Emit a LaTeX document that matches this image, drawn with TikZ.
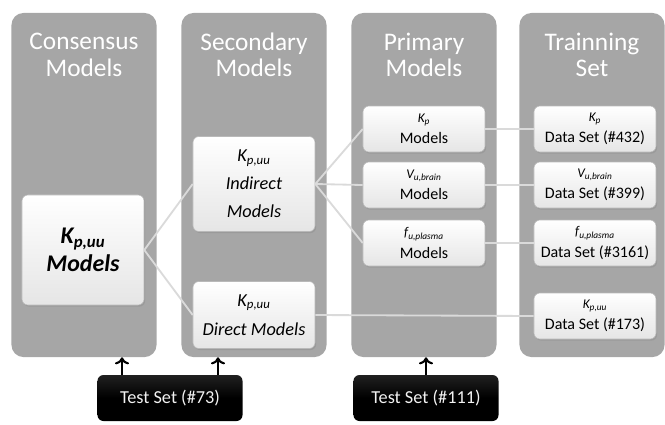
\documentclass[tikz,border=0pt]{standalone}
\usepackage{fontspec}
\setmainfont{Carlito}
\usetikzlibrary{arrows,arrows.meta,positioning,shadows}
\definecolor{colgray}{HTML}{A6A6A6}
\definecolor{linegray}{HTML}{DADADA}
\newcommand{\kpuu}{\textit{K}\textsubscript{\textit{p,uu}}}
\newcommand{\sublbl}[1]{{\fontsize{9.5}{11}\selectfont\itshape #1}}
\tikzstyle{column} = [rectangle, rounded corners=0.3cm, minimum width=3.625cm, minimum height=8.6cm, fill=colgray, draw=none]
\tikzstyle{title} = [text=white, align=center, font=\fontsize{18}{18.7}\selectfont]
\tikzstyle{model} = [rectangle, rounded corners=0.15cm, minimum width=3.05cm, top color=white, bottom color=gray!20, draw=gray!55, align=center, drop shadow={opacity=0.3, shadow xshift=0.03cm, shadow yshift=-0.04cm}]
\tikzstyle{small} = [model, minimum height=1.15cm, inner sep=1pt, font=\fontsize{11.4}{15}\selectfont]
\tikzstyle{testset} = [rectangle, rounded corners=0.15cm, minimum width=3.625cm, minimum height=1.15cm, top color=gray!25!black, bottom color=black, middle color=black, text=gray!10, font=\fontsize{13}{15}\selectfont]
\tikzstyle{link} = [draw=linegray, line width=1.3pt]
\tikzstyle{up} = [-{To[length=5pt,width=10pt]}, line width=1.5pt]

\begin{document}
\begin{tikzpicture}[x=0.025cm, y=-0.025cm]
\useasboundingbox (0,0) rectangle (665,424);

 % columns
 \node (col1) [column] at (84,185) {};
 \node (col2) [column] at (254,185) {};
 \node (col3) [column] at (424,185) {};
 \node (col4) [column] at (592,185) {};
 \node (t1) [title] at (84,55) {Consensus\\Models};
 \node (t2) [title] at (254,55) {Secondary\\Models};
 \node (t3) [title] at (424,55) {Primary\\Models};
 \node (t4) [title] at (592,55) {Trainning\\Set};

 % model boxes
 \node (cons) [model, minimum height=2.75cm, font=\fontsize{17}{20}\selectfont\bfseries\itshape] at (83,250) {\kpuu\\Models};
 \node (ind) [model, minimum height=2.375cm, font=\fontsize{13}{20}\selectfont\itshape] at (254,184) {\kpuu\\Indirect\\Models};
 \node (dir) [model, minimum height=1.675cm, font=\fontsize{13}{21}\selectfont\itshape] at (254,315) {\kpuu\\Direct Models};
 \node (kp) [small] at (424,129) {\sublbl{K\textsubscript{p}}\\Models};
 \node (vu) [small] at (424,185) {\sublbl{V\textsubscript{u,brain}}\\Models};
 \node (fu) [small] at (424,243) {\sublbl{f\textsubscript{u,plasma}}\\Models};
 \node (dkp) [small] at (595,129) {\sublbl{K\textsubscript{p}}\\Data Set (\#432)};
 \node (dvu) [small] at (595,185) {\sublbl{V\textsubscript{u,brain}}\\Data Set (\#399)};
 \node (dfu) [small] at (595,243) {\sublbl{f\textsubscript{u,plasma}}\\Data Set (\#3161)};
 \node (dkpuu) [small] at (595,316) {\sublbl{K\textsubscript{p,uu}}\\Data Set (\#173)};

 % test sets
 \node (test73) [testset] at (170,398) {Test Set (\#73)};
 \node (test111) [testset] at (426,398) {Test Set (\#111)};

 % links
 \draw[link] (cons.east) -- (ind.west);
 \draw[link] (cons.east) -- (dir.west);
 \draw[link] (ind.east) -- (kp.west);
 \draw[link] (ind.east) -- (vu.west);
 \draw[link] (ind.east) -- (fu.west);
 \draw[link] (kp) -- (dkp);
 \draw[link] (vu) -- (dvu);
 \draw[link] (fu) -- (dfu);
 \draw[link] (dir.east) -- (dkpuu.west);

 \draw[up] ([xshift=0.62cm]test73.north west) -- ([xshift=0.62cm]test73.north west |- col1.south);
 \draw[up] ([xshift=-0.62cm]test73.north east) -- ([xshift=-0.62cm]test73.north east |- col2.south);
 \draw[up] (test111.north) -- (test111.north |- col3.south);
\end{tikzpicture}
\end{document}
